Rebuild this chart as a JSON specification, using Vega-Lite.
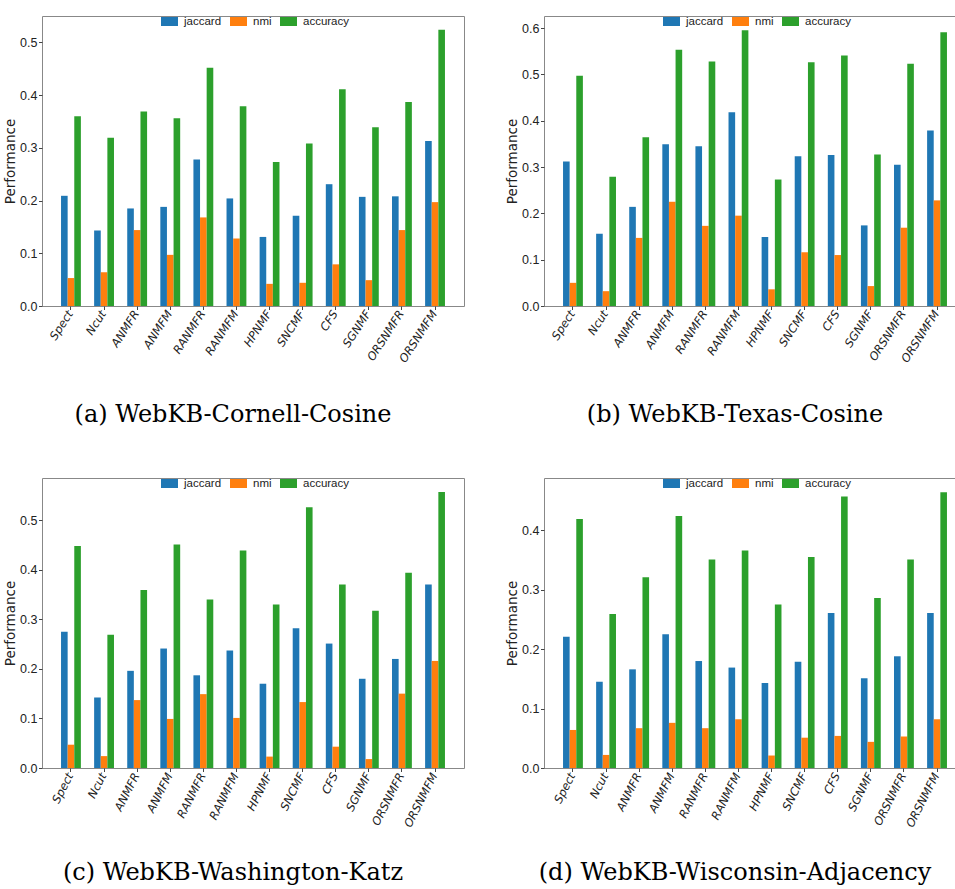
{
  "$schema": "https://vega.github.io/schema/vega-lite/v6.json",
  "padding": {"left": 3, "top": 12, "right": 0, "bottom": 0},
  "background": "white",
  "config": {
    "view": {"stroke": "#888888", "strokeWidth": 1},
    "axis": {"grid": false, "domainColor": "#444444", "tickColor": "#444444", "labelColor": "#222222", "tickSize": 3.5, "labelFont": "Liberation Sans Narrow, Liberation Sans", "titleColor": "#222222"},
    "axisY": {"labelFontSize": 12.5, "labelPadding": 1.5, "titleFont": "DejaVu Sans", "titleFontSize": 13.5, "titleFontWeight": "normal", "titlePadding": 2, "domain": false},
    "axisX": {"labelAngle": -57, "labelFontStyle": "italic", "labelFont": "DejaVu Sans", "labelFontSize": 11.5, "title": null, "domain": false, "labelPadding": 2},
    "legend": {"orient": "none", "direction": "horizontal", "title": null, "padding": 0, "symbolType": "M-1,-0.53H1V0.53H-1Z", "symbolSize": 289, "symbolStrokeWidth": 0, "labelFont": "Liberation Sans Narrow, Liberation Sans", "labelFontSize": 11.5, "labelColor": "#222222", "labelOffset": 6, "columnPadding": 8, "legendX": 119, "legendY": -3},
    "title": {"orient": "bottom", "font": "DejaVu Serif", "fontSize": 24, "fontWeight": "normal", "color": "#000000", "offset": 39, "frame": "group", "anchor": "middle", "dx": -20},
    "bar": {"stroke": null}
  },
  "datasets": {
    "perf": [
      {"panel": "a", "method": "Spect", "metric": "jaccard", "value": 0.209},
      {"panel": "a", "method": "Spect", "metric": "nmi", "value": 0.053},
      {"panel": "a", "method": "Spect", "metric": "accuracy", "value": 0.360},
      {"panel": "a", "method": "Ncut", "metric": "jaccard", "value": 0.143},
      {"panel": "a", "method": "Ncut", "metric": "nmi", "value": 0.064},
      {"panel": "a", "method": "Ncut", "metric": "accuracy", "value": 0.319},
      {"panel": "a", "method": "ANMFR", "metric": "jaccard", "value": 0.185},
      {"panel": "a", "method": "ANMFR", "metric": "nmi", "value": 0.144},
      {"panel": "a", "method": "ANMFR", "metric": "accuracy", "value": 0.369},
      {"panel": "a", "method": "ANMFM", "metric": "jaccard", "value": 0.188},
      {"panel": "a", "method": "ANMFM", "metric": "nmi", "value": 0.097},
      {"panel": "a", "method": "ANMFM", "metric": "accuracy", "value": 0.356},
      {"panel": "a", "method": "RANMFR", "metric": "jaccard", "value": 0.278},
      {"panel": "a", "method": "RANMFR", "metric": "nmi", "value": 0.168},
      {"panel": "a", "method": "RANMFR", "metric": "accuracy", "value": 0.452},
      {"panel": "a", "method": "RANMFM", "metric": "jaccard", "value": 0.204},
      {"panel": "a", "method": "RANMFM", "metric": "nmi", "value": 0.128},
      {"panel": "a", "method": "RANMFM", "metric": "accuracy", "value": 0.379},
      {"panel": "a", "method": "HPNMF", "metric": "jaccard", "value": 0.131},
      {"panel": "a", "method": "HPNMF", "metric": "nmi", "value": 0.042},
      {"panel": "a", "method": "HPNMF", "metric": "accuracy", "value": 0.273},
      {"panel": "a", "method": "SNCMF", "metric": "jaccard", "value": 0.171},
      {"panel": "a", "method": "SNCMF", "metric": "nmi", "value": 0.044},
      {"panel": "a", "method": "SNCMF", "metric": "accuracy", "value": 0.308},
      {"panel": "a", "method": "CFS", "metric": "jaccard", "value": 0.231},
      {"panel": "a", "method": "CFS", "metric": "nmi", "value": 0.079},
      {"panel": "a", "method": "CFS", "metric": "accuracy", "value": 0.411},
      {"panel": "a", "method": "SGNMF", "metric": "jaccard", "value": 0.207},
      {"panel": "a", "method": "SGNMF", "metric": "nmi", "value": 0.049},
      {"panel": "a", "method": "SGNMF", "metric": "accuracy", "value": 0.339},
      {"panel": "a", "method": "ORSNMFR", "metric": "jaccard", "value": 0.208},
      {"panel": "a", "method": "ORSNMFR", "metric": "nmi", "value": 0.144},
      {"panel": "a", "method": "ORSNMFR", "metric": "accuracy", "value": 0.387},
      {"panel": "a", "method": "ORSNMFM", "metric": "jaccard", "value": 0.313},
      {"panel": "a", "method": "ORSNMFM", "metric": "nmi", "value": 0.197},
      {"panel": "a", "method": "ORSNMFM", "metric": "accuracy", "value": 0.524},

      {"panel": "b", "method": "Spect", "metric": "jaccard", "value": 0.312},
      {"panel": "b", "method": "Spect", "metric": "nmi", "value": 0.050},
      {"panel": "b", "method": "Spect", "metric": "accuracy", "value": 0.497},
      {"panel": "b", "method": "Ncut", "metric": "jaccard", "value": 0.156},
      {"panel": "b", "method": "Ncut", "metric": "nmi", "value": 0.032},
      {"panel": "b", "method": "Ncut", "metric": "accuracy", "value": 0.279},
      {"panel": "b", "method": "ANMFR", "metric": "jaccard", "value": 0.214},
      {"panel": "b", "method": "ANMFR", "metric": "nmi", "value": 0.147},
      {"panel": "b", "method": "ANMFR", "metric": "accuracy", "value": 0.364},
      {"panel": "b", "method": "ANMFM", "metric": "jaccard", "value": 0.349},
      {"panel": "b", "method": "ANMFM", "metric": "nmi", "value": 0.225},
      {"panel": "b", "method": "ANMFM", "metric": "accuracy", "value": 0.553},
      {"panel": "b", "method": "RANMFR", "metric": "jaccard", "value": 0.345},
      {"panel": "b", "method": "RANMFR", "metric": "nmi", "value": 0.173},
      {"panel": "b", "method": "RANMFR", "metric": "accuracy", "value": 0.528},
      {"panel": "b", "method": "RANMFM", "metric": "jaccard", "value": 0.418},
      {"panel": "b", "method": "RANMFM", "metric": "nmi", "value": 0.195},
      {"panel": "b", "method": "RANMFM", "metric": "accuracy", "value": 0.595},
      {"panel": "b", "method": "HPNMF", "metric": "jaccard", "value": 0.149},
      {"panel": "b", "method": "HPNMF", "metric": "nmi", "value": 0.036},
      {"panel": "b", "method": "HPNMF", "metric": "accuracy", "value": 0.273},
      {"panel": "b", "method": "SNCMF", "metric": "jaccard", "value": 0.323},
      {"panel": "b", "method": "SNCMF", "metric": "nmi", "value": 0.116},
      {"panel": "b", "method": "SNCMF", "metric": "accuracy", "value": 0.526},
      {"panel": "b", "method": "CFS", "metric": "jaccard", "value": 0.326},
      {"panel": "b", "method": "CFS", "metric": "nmi", "value": 0.110},
      {"panel": "b", "method": "CFS", "metric": "accuracy", "value": 0.541},
      {"panel": "b", "method": "SGNMF", "metric": "jaccard", "value": 0.174},
      {"panel": "b", "method": "SGNMF", "metric": "nmi", "value": 0.043},
      {"panel": "b", "method": "SGNMF", "metric": "accuracy", "value": 0.327},
      {"panel": "b", "method": "ORSNMFR", "metric": "jaccard", "value": 0.305},
      {"panel": "b", "method": "ORSNMFR", "metric": "nmi", "value": 0.169},
      {"panel": "b", "method": "ORSNMFR", "metric": "accuracy", "value": 0.523},
      {"panel": "b", "method": "ORSNMFM", "metric": "jaccard", "value": 0.379},
      {"panel": "b", "method": "ORSNMFM", "metric": "nmi", "value": 0.228},
      {"panel": "b", "method": "ORSNMFM", "metric": "accuracy", "value": 0.591},

      {"panel": "c", "method": "Spect", "metric": "jaccard", "value": 0.275},
      {"panel": "c", "method": "Spect", "metric": "nmi", "value": 0.047},
      {"panel": "c", "method": "Spect", "metric": "accuracy", "value": 0.448},
      {"panel": "c", "method": "Ncut", "metric": "jaccard", "value": 0.142},
      {"panel": "c", "method": "Ncut", "metric": "nmi", "value": 0.024},
      {"panel": "c", "method": "Ncut", "metric": "accuracy", "value": 0.269},
      {"panel": "c", "method": "ANMFR", "metric": "jaccard", "value": 0.196},
      {"panel": "c", "method": "ANMFR", "metric": "nmi", "value": 0.137},
      {"panel": "c", "method": "ANMFR", "metric": "accuracy", "value": 0.359},
      {"panel": "c", "method": "ANMFM", "metric": "jaccard", "value": 0.241},
      {"panel": "c", "method": "ANMFM", "metric": "nmi", "value": 0.099},
      {"panel": "c", "method": "ANMFM", "metric": "accuracy", "value": 0.451},
      {"panel": "c", "method": "RANMFR", "metric": "jaccard", "value": 0.187},
      {"panel": "c", "method": "RANMFR", "metric": "nmi", "value": 0.149},
      {"panel": "c", "method": "RANMFR", "metric": "accuracy", "value": 0.340},
      {"panel": "c", "method": "RANMFM", "metric": "jaccard", "value": 0.237},
      {"panel": "c", "method": "RANMFM", "metric": "nmi", "value": 0.101},
      {"panel": "c", "method": "RANMFM", "metric": "accuracy", "value": 0.439},
      {"panel": "c", "method": "HPNMF", "metric": "jaccard", "value": 0.170},
      {"panel": "c", "method": "HPNMF", "metric": "nmi", "value": 0.023},
      {"panel": "c", "method": "HPNMF", "metric": "accuracy", "value": 0.330},
      {"panel": "c", "method": "SNCMF", "metric": "jaccard", "value": 0.282},
      {"panel": "c", "method": "SNCMF", "metric": "nmi", "value": 0.133},
      {"panel": "c", "method": "SNCMF", "metric": "accuracy", "value": 0.526},
      {"panel": "c", "method": "CFS", "metric": "jaccard", "value": 0.251},
      {"panel": "c", "method": "CFS", "metric": "nmi", "value": 0.043},
      {"panel": "c", "method": "CFS", "metric": "accuracy", "value": 0.370},
      {"panel": "c", "method": "SGNMF", "metric": "jaccard", "value": 0.180},
      {"panel": "c", "method": "SGNMF", "metric": "nmi", "value": 0.018},
      {"panel": "c", "method": "SGNMF", "metric": "accuracy", "value": 0.317},
      {"panel": "c", "method": "ORSNMFR", "metric": "jaccard", "value": 0.220},
      {"panel": "c", "method": "ORSNMFR", "metric": "nmi", "value": 0.150},
      {"panel": "c", "method": "ORSNMFR", "metric": "accuracy", "value": 0.394},
      {"panel": "c", "method": "ORSNMFM", "metric": "jaccard", "value": 0.370},
      {"panel": "c", "method": "ORSNMFM", "metric": "nmi", "value": 0.216},
      {"panel": "c", "method": "ORSNMFM", "metric": "accuracy", "value": 0.557},

      {"panel": "d", "method": "Spect", "metric": "jaccard", "value": 0.221},
      {"panel": "d", "method": "Spect", "metric": "nmi", "value": 0.064},
      {"panel": "d", "method": "Spect", "metric": "accuracy", "value": 0.419},
      {"panel": "d", "method": "Ncut", "metric": "jaccard", "value": 0.145},
      {"panel": "d", "method": "Ncut", "metric": "nmi", "value": 0.022},
      {"panel": "d", "method": "Ncut", "metric": "accuracy", "value": 0.259},
      {"panel": "d", "method": "ANMFR", "metric": "jaccard", "value": 0.166},
      {"panel": "d", "method": "ANMFR", "metric": "nmi", "value": 0.067},
      {"panel": "d", "method": "ANMFR", "metric": "accuracy", "value": 0.321},
      {"panel": "d", "method": "ANMFM", "metric": "jaccard", "value": 0.225},
      {"panel": "d", "method": "ANMFM", "metric": "nmi", "value": 0.076},
      {"panel": "d", "method": "ANMFM", "metric": "accuracy", "value": 0.424},
      {"panel": "d", "method": "RANMFR", "metric": "jaccard", "value": 0.180},
      {"panel": "d", "method": "RANMFR", "metric": "nmi", "value": 0.067},
      {"panel": "d", "method": "RANMFR", "metric": "accuracy", "value": 0.351},
      {"panel": "d", "method": "RANMFM", "metric": "jaccard", "value": 0.169},
      {"panel": "d", "method": "RANMFM", "metric": "nmi", "value": 0.082},
      {"panel": "d", "method": "RANMFM", "metric": "accuracy", "value": 0.366},
      {"panel": "d", "method": "HPNMF", "metric": "jaccard", "value": 0.143},
      {"panel": "d", "method": "HPNMF", "metric": "nmi", "value": 0.021},
      {"panel": "d", "method": "HPNMF", "metric": "accuracy", "value": 0.275},
      {"panel": "d", "method": "SNCMF", "metric": "jaccard", "value": 0.179},
      {"panel": "d", "method": "SNCMF", "metric": "nmi", "value": 0.051},
      {"panel": "d", "method": "SNCMF", "metric": "accuracy", "value": 0.355},
      {"panel": "d", "method": "CFS", "metric": "jaccard", "value": 0.261},
      {"panel": "d", "method": "CFS", "metric": "nmi", "value": 0.054},
      {"panel": "d", "method": "CFS", "metric": "accuracy", "value": 0.457},
      {"panel": "d", "method": "SGNMF", "metric": "jaccard", "value": 0.151},
      {"panel": "d", "method": "SGNMF", "metric": "nmi", "value": 0.044},
      {"panel": "d", "method": "SGNMF", "metric": "accuracy", "value": 0.286},
      {"panel": "d", "method": "ORSNMFR", "metric": "jaccard", "value": 0.188},
      {"panel": "d", "method": "ORSNMFR", "metric": "nmi", "value": 0.053},
      {"panel": "d", "method": "ORSNMFR", "metric": "accuracy", "value": 0.351},
      {"panel": "d", "method": "ORSNMFM", "metric": "jaccard", "value": 0.261},
      {"panel": "d", "method": "ORSNMFM", "metric": "nmi", "value": 0.082},
      {"panel": "d", "method": "ORSNMFM", "metric": "accuracy", "value": 0.464}
    ]
  },
  "vconcat": [
    {
      "hconcat": [
        {
          "width": 422, "height": 290,
          "title": {"text": "(a) WebKB-Cornell-Cosine"},
          "data": {"name": "perf"},
          "transform": [{"filter": "datum.panel === 'a'"}],
          "mark": "bar",
          "encoding": {
            "x": {"field": "method", "type": "nominal", "sort": ["Spect","Ncut","ANMFR","ANMFM","RANMFR","RANMFM","HPNMF","SNCMF","CFS","SGNMF","ORSNMFR","ORSNMFM"], "scale": {"paddingInner": 0.4, "paddingOuter": 0.575}},
            "xOffset": {"field": "metric", "type": "nominal", "sort": ["jaccard","nmi","accuracy"], "scale": {"paddingInner": 0, "paddingOuter": 0}},
            "y": {"field": "value", "type": "quantitative", "scale": {"domain": [0, 0.55], "nice": false}, "axis": {"values": [0,0.1,0.2,0.3,0.4,0.5], "format": ".1f", "title": "Performance"}},
            "color": {"field": "metric", "type": "nominal", "scale": {"domain": ["jaccard","nmi","accuracy"], "range": ["#1f77b4","#ff7f0e","#2ca02c"]}}
          }
        },
        {
          "width": 422, "height": 290,
          "title": {"text": "(b) WebKB-Texas-Cosine"},
          "data": {"name": "perf"},
          "transform": [{"filter": "datum.panel === 'b'"}],
          "mark": "bar",
          "encoding": {
            "x": {"field": "method", "type": "nominal", "sort": ["Spect","Ncut","ANMFR","ANMFM","RANMFR","RANMFM","HPNMF","SNCMF","CFS","SGNMF","ORSNMFR","ORSNMFM"], "scale": {"paddingInner": 0.4, "paddingOuter": 0.575}},
            "xOffset": {"field": "metric", "type": "nominal", "sort": ["jaccard","nmi","accuracy"], "scale": {"paddingInner": 0, "paddingOuter": 0}},
            "y": {"field": "value", "type": "quantitative", "scale": {"domain": [0, 0.626], "nice": false}, "axis": {"values": [0,0.1,0.2,0.3,0.4,0.5,0.6], "format": ".1f", "title": "Performance"}},
            "color": {"field": "metric", "type": "nominal", "scale": {"domain": ["jaccard","nmi","accuracy"], "range": ["#1f77b4","#ff7f0e","#2ca02c"]}}
          }
        }
      ],
      "spacing": 40,
      "resolve": {"scale": {"y": "independent", "x": "independent", "color": "independent"}, "legend": {"color": "independent"}}
    },
    {
      "hconcat": [
        {
          "width": 422, "height": 290,
          "title": {"text": "(c) WebKB-Washington-Katz", "offset": 32},
          "data": {"name": "perf"},
          "transform": [{"filter": "datum.panel === 'c'"}],
          "mark": "bar",
          "encoding": {
            "x": {"field": "method", "type": "nominal", "sort": ["Spect","Ncut","ANMFR","ANMFM","RANMFR","RANMFM","HPNMF","SNCMF","CFS","SGNMF","ORSNMFR","ORSNMFM"], "scale": {"paddingInner": 0.4, "paddingOuter": 0.575}, "axis": {"labelAngle": -63}},
            "xOffset": {"field": "metric", "type": "nominal", "sort": ["jaccard","nmi","accuracy"], "scale": {"paddingInner": 0, "paddingOuter": 0}},
            "y": {"field": "value", "type": "quantitative", "scale": {"domain": [0, 0.585], "nice": false}, "axis": {"values": [0,0.1,0.2,0.3,0.4,0.5], "format": ".1f", "title": "Performance"}},
            "color": {"field": "metric", "type": "nominal", "scale": {"domain": ["jaccard","nmi","accuracy"], "range": ["#1f77b4","#ff7f0e","#2ca02c"]}}
          }
        },
        {
          "width": 422, "height": 290,
          "title": {"text": "(d) WebKB-Wisconsin-Adjacency", "offset": 32},
          "data": {"name": "perf"},
          "transform": [{"filter": "datum.panel === 'd'"}],
          "mark": "bar",
          "encoding": {
            "x": {"field": "method", "type": "nominal", "sort": ["Spect","Ncut","ANMFR","ANMFM","RANMFR","RANMFM","HPNMF","SNCMF","CFS","SGNMF","ORSNMFR","ORSNMFM"], "scale": {"paddingInner": 0.4, "paddingOuter": 0.575}, "axis": {"labelAngle": -63}},
            "xOffset": {"field": "metric", "type": "nominal", "sort": ["jaccard","nmi","accuracy"], "scale": {"paddingInner": 0, "paddingOuter": 0}},
            "y": {"field": "value", "type": "quantitative", "scale": {"domain": [0, 0.488], "nice": false}, "axis": {"values": [0,0.1,0.2,0.3,0.4], "format": ".1f", "title": "Performance"}},
            "color": {"field": "metric", "type": "nominal", "scale": {"domain": ["jaccard","nmi","accuracy"], "range": ["#1f77b4","#ff7f0e","#2ca02c"]}}
          }
        }
      ],
      "spacing": 40,
      "resolve": {"scale": {"y": "independent", "x": "independent", "color": "independent"}, "legend": {"color": "independent"}}
    }
  ],
  "spacing": 46,
  "resolve": {"scale": {"y": "independent", "x": "independent", "color": "independent"}, "legend": {"color": "independent"}}
}
